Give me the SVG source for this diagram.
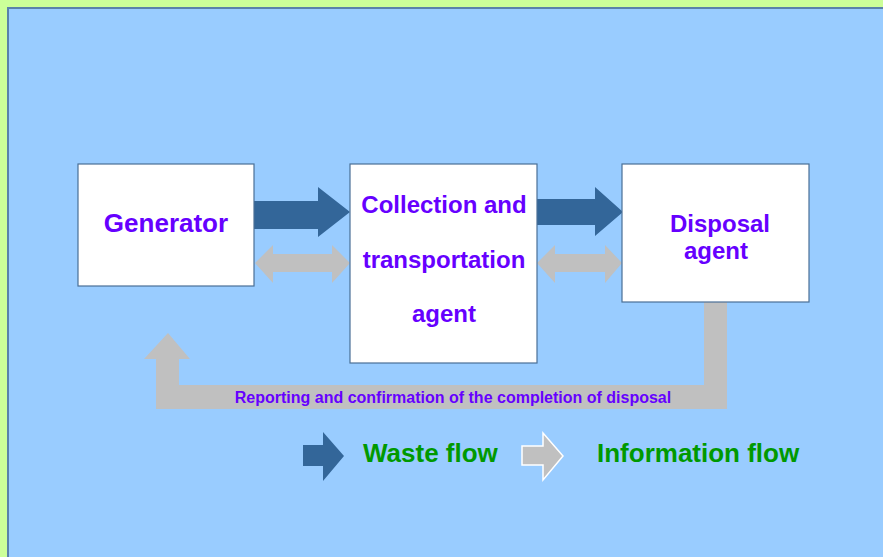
<svg xmlns="http://www.w3.org/2000/svg" width="883" height="557" viewBox="0 0 883 557">
<style>
.box{fill:#FFFFFF;stroke:#4A6F96;stroke-width:1.2}
.lbl{font-family:"Liberation Sans",Arial,sans-serif;font-weight:bold;fill:#6600FF;text-anchor:middle}
.leg{font-family:"Liberation Sans",Arial,sans-serif;font-weight:bold;fill:#009900;font-size:26px}
.waste{fill:#336699}
.info{fill:#C0C0C0}
</style>
<rect x="0" y="0" width="883" height="557" fill="#CCFF99"/>
<rect x="8" y="8" width="900" height="600" fill="#99CCFF" stroke="#5A82AA" stroke-width="2"/>
<g id="connectors">
<polygon class="waste" points="254,201 318,201 318,187 350,212 318,237 318,229 254,229"/>
<polygon class="info" points="255,263 273,245 273,254 332,254 332,245 350,263 332,283 332,272 273,272 273,283"/>
<polygon class="waste" points="537,199 595,199 595,187 623,212 595,236 595,225 537,225"/>
<polygon class="info" points="537,263 555,245 555,254 605,254 605,245 622,263 605,283 605,272 555,272 555,283"/>
<polygon class="info" points="704,302 727,302 727,409 156,409 156,359 144,359 168,333 190,359 179,359 179,385 704,385"/>
<text class="lbl" x="453" y="403" font-size="16">Reporting and confirmation of the completion of disposal</text>
</g>
<g id="generator">
<rect class="box" x="78" y="164" width="176" height="122"/>
<text class="lbl" x="166" y="232" font-size="26">Generator</text>
</g>
<g id="collection">
<rect class="box" x="350" y="164" width="187" height="199"/>
<text class="lbl" x="444" y="213" font-size="24">Collection and</text>
<text class="lbl" x="444" y="268" font-size="24">transportation</text>
<text class="lbl" x="444" y="322" font-size="24">agent</text>
</g>
<g id="disposal">
<rect class="box" x="622" y="164" width="187" height="138"/>
<text class="lbl" x="720" y="232" font-size="24">Disposal</text>
<text class="lbl" x="716" y="259" font-size="24">agent</text>
</g>
<g id="legend">
<polygon class="waste" points="303,445 323,445 323,432 344,456 323,481 323,466 303,466"/>
<text class="leg" x="363" y="462">Waste flow</text>
<polygon class="info" stroke="#FFFFFF" stroke-width="1.5" points="522,446 543,446 543,433 563,456 543,480 543,465 522,465"/>
<text class="leg" x="597" y="462">Information flow</text>
</g>
</svg>
